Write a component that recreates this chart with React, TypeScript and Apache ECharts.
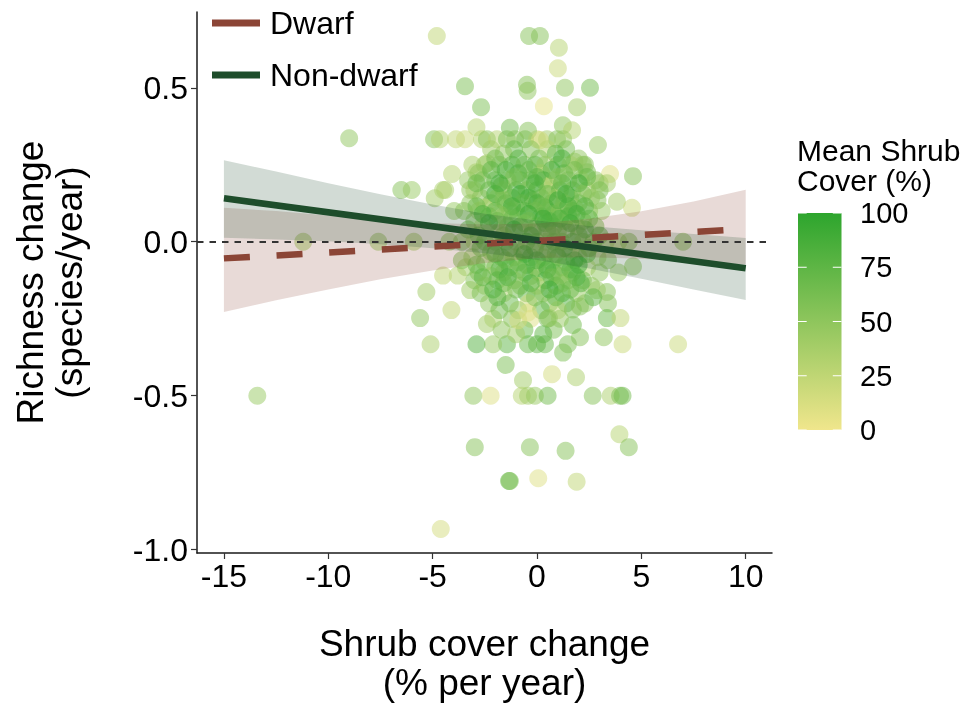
import React, { useEffect, useRef } from "react";
import * as echarts from "echarts";

const FONT = "'Liberation Sans', Arial, Helvetica, sans-serif";

// Plots: [shrub cover change (% / yr), richness change (species / yr), mean shrub cover (%)]
const outerPoints: number[][] = [
  [-13.4, -0.5, 45], [-11.2, 0, 40], [-9.0, 0.336, 50], [-7.6, 0, 45], [-5.9, 0, 40],
  [-6.5, 0.168, 55], [-6.0, 0.168, 45], [-4.8, 0.668, 25], [-4.9, 0.141, 40], [-5.3, -0.163, 40],
  [-5.6, -0.248, 50], [-5.1, -0.333, 35], [-4.1, -0.222, 25], [-4.5, -0.11, 25], [-4.5, 0.168, 35],
  [-4.07, 0.22, 30], [-3.97, 0.1, 45], [-3.45, 0.505, 60], [-2.68, 0.437, 60], [-2.9, 0.372, 30],
  [-0.38, 0.668, 55], [0.14, 0.668, 55], [1.05, 0.63, 30], [1.0, 0.563, 20], [-0.48, 0.51, 55],
  [-0.45, 0.49, 50], [1.34, 0.5, 50], [2.54, 0.5, 65], [0.33, 0.44, 5], [1.92, 0.437, 40],
  [1.24, 0.378, 50], [1.68, 0.362, 30], [2.92, 0.314, 45], [3.5, 0.22, 10], [4.6, 0.213, 55],
  [3.35, 0.19, 40], [3.83, 0.13, 40], [4.55, 0.11, 20], [7.0, 0, 50], [6.76, -0.333, 20],
  [4.6, -0.08, 50], [3.9, -0.1, 45], [3.35, -0.163, 55], [2.87, -0.157, 45], [3.4, -0.2, 55],
  [3.35, -0.248, 70], [4.0, -0.248, 25], [3.2, -0.31, 50], [4.1, -0.333, 20], [2.06, -0.31, 55],
  [1.48, -0.333, 60], [1.25, -0.36, 60], [1.72, -0.27, 65], [0.38, -0.333, 70], [0, -0.333, 75],
  [-0.43, -0.333, 70], [-1.44, -0.333, 75], [-2.1, -0.333, 45], [-2.9, -0.333, 80], [-1.5, -0.4, 60],
  [-0.67, -0.45, 40], [0.72, -0.43, 15], [1.87, -0.44, 35], [-2.4, -0.267, 40], [-2.1, -0.25, 35],
  [-3.2, -0.157, 40], [-3.8, -0.11, 30],
];

const lowerPoints: number[][] = [
  [-3.05, -0.5, 50], [-2.22, -0.5, 10], [-0.73, -0.5, 30], [-0.43, -0.5, 40], [-0.1, -0.5, 45],
  [0.51, -0.5, 65], [2.67, -0.5, 55], [3.53, -0.5, 35], [3.98, -0.5, 60], [4.1, -0.5, 65],
  [3.95, -0.625, 30], [4.4, -0.667, 55], [-2.98, -0.667, 55], [-0.34, -0.667, 55], [1.37, -0.679, 55],
  [-1.34, -0.777, 70], [-1.3, -0.777, 60], [0.06, -0.768, 10], [1.9, -0.779, 25], [-4.61, -0.933, 15],
];

const upperPoints: number[][] = [
  [-4.93, 0.333, 55], [-4.65, 0.333, 30], [-3.88, 0.333, 25], [-3.45, 0.333, 20], [-2.64, 0.333, 30],
  [-2.4, 0.333, 55], [-1.92, 0.333, 30], [-1.44, 0.333, 60], [-1.05, 0.333, 50], [-0.57, 0.333, 65],
  [0.0, 0.333, 20], [0.48, 0.333, 40], [0.96, 0.333, 55], [1.25, 0.333, 45],
  [-1.3, 0.37, 65], [-0.43, 0.36, 55], [0.14, 0.33, 15], [1.8, 0.26, 45], [2.2, 0.25, 50],
  [3.0, 0.19, 40], [2.4, 0.226, 60], [-2.4, 0.255, 35], [-2.9, 0.226, 40], [-3.2, 0.168, 45],
  [-4.4, 0.168, 35],
  [-2.2, 0.3, 40], [-1.1, 0.3, 70], [-0.3, 0.3, 55], [0.5, 0.3, 30], [1.4, 0.3, 60],
  [-1.6, 0.286, 50], [0.9, 0.286, 75],
  [-3.1, 0.25, 35], [-2.5, 0.25, 45], [-1.8, 0.25, 60], [-1.2, 0.25, 75], [-0.6, 0.25, 55],
  [-0.1, 0.25, 85], [0.4, 0.25, 40], [1.0, 0.25, 65], [1.6, 0.25, 30], [2.3, 0.25, 55],
  [-2.8, 0.222, 50], [-0.9, 0.222, 90], [0.2, 0.222, 25], [1.3, 0.222, 70],
  [-3.3, 0.2, 45], [-2.6, 0.2, 60], [-2.0, 0.2, 70], [-1.4, 0.2, 55], [-0.8, 0.2, 80],
  [-0.3, 0.2, 65], [0.3, 0.2, 90], [0.8, 0.2, 45], [1.5, 0.2, 60], [2.1, 0.2, 35], [2.8, 0.2, 50],
  [-1.7, 0.182, 65], [0.6, 0.182, 20],
  [-3.0, 0.167, 40], [-2.3, 0.167, 70], [-1.6, 0.167, 50], [-1.0, 0.167, 85], [-0.5, 0.167, 60],
  [0.0, 0.167, 75], [0.5, 0.167, 35], [1.1, 0.167, 80], [1.7, 0.167, 55], [2.4, 0.167, 40], [3.0, 0.167, 60],
];

const corePoints: number[][] = [
  [-2.7, 0.143, 55], [-1.9, 0.143, 35], [-1.2, 0.143, 70], [-0.4, 0.143, 90], [0.2, 0.143, 60],
  [0.9, 0.143, 25], [1.6, 0.143, 70], [2.6, 0.143, 45],
  [-3.2, 0.125, 50], [-2.2, 0.125, 65], [-1.5, 0.125, 80], [-0.7, 0.125, 45], [0.0, 0.125, 95],
  [0.7, 0.125, 60], [1.3, 0.125, 40], [2.0, 0.125, 75],
  [-2.5, 0.111, 30], [-1.0, 0.111, 60], [0.4, 0.111, 80], [1.8, 0.111, 50],
  [-3.5, 0.1, 55], [-2.8, 0.1, 40], [-2.0, 0.1, 75], [-1.3, 0.1, 60], [-0.6, 0.1, 85], [-0.1, 0.1, 50],
  [0.5, 0.1, 70], [1.1, 0.1, 30], [1.7, 0.1, 65], [2.5, 0.1, 55], [3.1, 0.1, 45],
  [-2.3, 0.083, 70], [-1.6, 0.083, 45], [-0.9, 0.083, 65], [0.2, 0.083, 85], [0.9, 0.083, 55], [1.5, 0.083, 75],
  [-3.0, 0.067, 60], [-1.9, 0.067, 80], [-0.4, 0.067, 35], [0.6, 0.067, 90], [1.3, 0.067, 50], [2.2, 0.067, 60],
  [-2.6, 0.05, 45], [-1.4, 0.05, 65], [-0.8, 0.05, 75], [0.0, 0.05, 55], [0.8, 0.05, 80], [1.9, 0.05, 40], [2.8, 0.05, 65],
  [-1.8, 0.033, 55], [-0.2, 0.033, 70], [1.0, 0.033, 60],
  [-4.2, 0, 45], [-3.6, 0, 55], [-3.0, 0, 35], [-2.5, 0, 70], [-2.0, 0, 60], [-1.5, 0, 80],
  [-1.0, 0, 50], [-0.5, 0, 90], [0.0, 0, 65], [0.4, 0, 40], [0.8, 0, 75], [1.2, 0, 55],
  [1.7, 0, 85], [2.2, 0, 45], [2.7, 0, 60], [3.3, 0, 50], [3.9, 0, 40], [4.4, 0, 55],
  [-2.2, -0.033, 65], [-0.7, -0.033, 45], [0.5, -0.033, 85], [1.6, -0.033, 55],
  [-3.1, -0.05, 50], [-1.7, -0.05, 70], [-1.1, -0.05, 40], [-0.3, -0.05, 80], [0.3, -0.05, 60],
  [1.0, -0.05, 90], [2.0, -0.05, 50], [2.9, -0.05, 45],
  [-2.5, -0.067, 55], [-0.9, -0.067, 75], [0.7, -0.067, 45], [1.4, -0.067, 65],
  [-3.4, -0.083, 40], [-2.0, -0.083, 60], [-1.3, -0.083, 85], [-0.1, -0.083, 55], [1.2, -0.083, 70], [2.4, -0.083, 35],
  [-2.8, -0.1, 65], [-1.6, -0.1, 50], [-0.6, -0.1, 90], [0.1, -0.1, 40], [0.8, -0.1, 75], [1.7, -0.1, 60], [3.0, -0.1, 50],
  [-2.2, -0.111, 45], [-0.3, -0.111, 70], [1.1, -0.111, 55],
  [-3.0, -0.125, 55], [-1.9, -0.125, 75], [-1.1, -0.125, 50], [0.4, -0.125, 85], [1.5, -0.125, 45], [2.2, -0.125, 65],
  [-2.5, -0.143, 40], [-0.8, -0.143, 60], [0.0, -0.143, 20], [0.9, -0.143, 80], [2.6, -0.143, 50],
  [-2.7, -0.167, 60], [-1.6, -0.167, 35], [-0.5, -0.167, 75], [0.3, -0.167, 55], [1.2, -0.167, 85], [1.9, -0.167, 45],
  [-2.3, -0.2, 50], [-1.3, -0.2, 70], [-0.4, -0.2, 15], [0.6, -0.2, 60], [1.4, -0.2, 80], [2.3, -0.2, 55],
  [-1.8, -0.222, 65], [-0.9, -0.222, 45], [0.2, -0.222, 75], [1.0, -0.222, 30],
  [-1.2, -0.25, 55], [-0.3, -0.25, 10], [0.5, -0.25, 65], [1.1, -0.25, 45],
  [-1.7, -0.286, 50], [-0.6, -0.286, 70], [0.8, -0.286, 60],
  [-1.0, -0.3, 40], [0.3, -0.3, 75],
  [-0.43, -0.23, 10], [-0.9, -0.255, 15], [0.57, -0.248, 50], [1.72, -0.22, 60], [2.06, -0.21, 55],
];

const densePoints: number[][] = [
  [-2.0, 0.27, 65], [-0.9, 0.27, 80], [0.1, 0.27, 60], [1.2, 0.27, 85], [2.0, 0.27, 50],
  [-2.2, 0.233, 75], [-1.5, 0.233, 85], [-0.4, 0.233, 70], [0.7, 0.233, 90], [1.8, 0.233, 65],
  [-1.1, 0.21, 60], [0.0, 0.21, 80], [1.0, 0.21, 55], [2.4, 0.21, 70],
  [-2.9, 0.19, 70], [-1.8, 0.19, 90], [-0.1, 0.19, 85], [1.2, 0.19, 75], [2.0, 0.19, 95],
  [-2.0, 0.155, 85], [-0.8, 0.155, 95], [0.5, 0.155, 70], [1.4, 0.155, 90], [2.2, 0.155, 60],
  [-1.6, 0.135, 60], [-0.2, 0.135, 80], [1.0, 0.135, 95], [2.9, 0.135, 55],
  [-2.9, 0.115, 70], [-1.2, 0.115, 90], [0.2, 0.115, 65], [1.5, 0.115, 85], [2.3, 0.115, 80],
  [-2.6, 0.09, 85], [-1.8, 0.09, 55], [-0.4, 0.09, 95], [0.8, 0.09, 70], [1.9, 0.09, 90],
  [-1.2, 0.075, 70], [0.3, 0.075, 95], [1.1, 0.075, 85], [2.5, 0.075, 75],
  [-2.3, 0.06, 90], [-0.6, 0.06, 60], [0.4, 0.06, 80], [1.6, 0.06, 95],
  [-3.3, 0.04, 65], [-1.1, 0.04, 95], [0.5, 0.04, 75], [1.4, 0.04, 70], [2.3, 0.04, 85],
  [-2.8, 0.02, 80], [-1.6, 0.02, 65], [-0.3, 0.02, 90], [0.7, 0.02, 60], [2.0, 0.02, 75], [3.0, 0.02, 70],
  [-2.7, -0.02, 75], [-1.3, -0.02, 90], [-0.1, -0.02, 70], [1.3, -0.02, 95], [2.5, -0.02, 65],
  [-2.0, -0.04, 85], [-0.6, -0.04, 95], [0.9, -0.04, 70], [2.4, -0.04, 80],
  [-3.6, -0.06, 60], [-1.5, -0.06, 75], [0.0, -0.06, 90], [1.8, -0.06, 85], [3.4, -0.06, 55],
  [-2.9, -0.075, 70], [-0.5, -0.075, 85], [0.4, -0.075, 70], [2.0, -0.075, 95],
  [-1.8, -0.09, 80], [-0.9, -0.09, 60], [0.5, -0.09, 90], [1.6, -0.09, 80],
  [-2.6, -0.115, 75], [-1.4, -0.115, 90], [0.7, -0.115, 65], [1.9, -0.115, 85],
  [-1.6, -0.135, 70], [-0.3, -0.135, 85], [1.2, -0.135, 60], [2.1, -0.135, 80],
  [-2.1, -0.155, 85], [-1.0, -0.155, 65], [0.6, -0.155, 95], [1.6, -0.155, 70],
  [-1.9, -0.18, 80], [-0.1, -0.18, 60], [0.9, -0.18, 70], [2.7, -0.18, 75],
];

// Linear fits per shrub group
const fitX = [-15, 10];
const dwarfFit = [-0.054, 0.041];
const nonDwarfFit = [0.141, -0.086];

// Confidence bands of the fits
const bandX = [-15, -12.5, -10, -7.5, -5, -2.5, 0, 2.5, 5, 7.5, 10];
const dwarfUpper = [0.11, 0.1, 0.085, 0.071, 0.061, 0.056, 0.059, 0.075, 0.099, 0.131, 0.169];
const dwarfLower = [-0.228, -0.19, -0.155, -0.122, -0.093, -0.069, -0.053, -0.05, -0.055, -0.065, -0.074];
const nonDwarfUpper = [0.265, 0.228, 0.19, 0.154, 0.121, 0.091, 0.069, 0.051, 0.037, 0.025, 0.012];
const nonDwarfLower = [0.013, 0.007, 0.002, -0.008, -0.021, -0.037, -0.059, -0.087, -0.12, -0.155, -0.189];

const xTicks = [-15, -10, -5, 0, 5, 10];
const yTicks = [-1, -0.5, 0, 0.5];
const coverTicks = [0, 25, 50, 75, 100];

const groupNames = ["Dwarf", "Non-dwarf"];
const groupColors = ["#8B4536", "#1E4D2B"];
const coverColors = ["#F0E68C", "#2DA52D"];

function ribbon(upper: number[], lower: number[], fill: string) {
  return {
    type: "custom",
    z: 2,
    silent: true,
    data: [[bandX[0], upper[0]]],
    encode: { x: 0, y: 1 },
    renderItem: (_params: any, api: any) => {
      const pts: number[][] = [];
      bandX.forEach((x, i) => pts.push(api.coord([x, upper[i]])));
      for (let i = bandX.length - 1; i >= 0; i--) pts.push(api.coord([bandX[i], lower[i]]));
      return { type: "polygon", shape: { points: pts }, style: { fill } };
    },
  };
}

export default function App() {
  const ref = useRef<HTMLDivElement>(null);

  useEffect(() => {
    if (!ref.current) return;
    const chart = echarts.init(ref.current, null, { renderer: "svg" });

    const barLeft = 798;
    const barTop = 213;
    const barW = 43.5;
    const barH = 217;
    const tickLen = 8.7;

    const colorbar: any[] = [
      {
        type: "rect",
        shape: { x: barLeft, y: barTop, width: barW, height: barH },
        style: {
          fill: new echarts.graphic.LinearGradient(0, 0, 0, 1, [
            { offset: 0, color: coverColors[1] },
            { offset: 1, color: coverColors[0] },
          ]),
        },
      },
    ];
    coverTicks.forEach((t) => {
      const y = barTop + barH * (1 - t / 100);
      colorbar.push(
        { type: "line", shape: { x1: barLeft, y1: y, x2: barLeft + tickLen, y2: y }, style: { stroke: "#fff", lineWidth: 1 } },
        { type: "line", shape: { x1: barLeft + barW - tickLen, y1: y, x2: barLeft + barW, y2: y }, style: { stroke: "#fff", lineWidth: 1 } },
        {
          type: "text",
          x: 860,
          y,
          style: { text: String(t), fontSize: 29, fontFamily: FONT, fill: "#000", verticalAlign: "middle", align: "left" },
        }
      );
    });
    colorbar.push(
      { type: "text", x: 797, y: 150, style: { text: "Mean Shrub", fontSize: 30, fontFamily: FONT, fill: "#000", verticalAlign: "middle" } },
      { type: "text", x: 797, y: 180, style: { text: "Cover (%)", fontSize: 30, fontFamily: FONT, fill: "#000", verticalAlign: "middle" } }
    );

    chart.setOption({
      animation: false,
      grid: { left: 197, right: 197, top: 12, bottom: 158, containLabel: false },
      legend: {
        data: groupNames.map((n) => ({ name: n, icon: "rect" })),
        orient: "vertical",
        left: 212,
        top: 7,
        padding: 0,
        itemWidth: 48,
        itemHeight: 7,
        itemGap: 20,
        selectedMode: false,
        textStyle: { fontSize: 32, fontFamily: FONT, color: "#000", lineHeight: 30, padding: [0, 0, 0, 5] },
      },
      visualMap: {
        type: "continuous",
        show: false,
        min: 0,
        max: 100,
        dimension: 2,
        seriesIndex: 0,
        inRange: { color: coverColors },
      },
      xAxis: {
        type: "value",
        min: -16.29,
        max: 11.26,
        name: "Shrub cover change\n(% per year)",
        nameLocation: "middle",
        nameGap: 71,
        nameTextStyle: { fontSize: 37, lineHeight: 39, fontFamily: FONT, color: "#000" },
        axisLine: { onZero: false, lineStyle: { color: "#1a1a1a", width: 1.5 } },
        axisTick: { customValues: xTicks, length: 6, lineStyle: { color: "#333", width: 1.2 } },
        axisLabel: {
          customValues: xTicks,
          fontSize: 32,
          lineHeight: 32,
          fontFamily: FONT,
          color: "#000",
          margin: 7,
          formatter: (v: number) => String(v),
        },
        splitLine: { show: false },
      },
      yAxis: {
        type: "value",
        min: -1.0107,
        max: 0.746,
        name: "Richness change\n(species/year)",
        nameLocation: "middle",
        nameGap: 108,
        nameTextStyle: { fontSize: 37, lineHeight: 39, fontFamily: FONT, color: "#000" },
        axisLine: { show: true, onZero: false, lineStyle: { color: "#1a1a1a", width: 1.5 } },
        axisTick: { show: true, customValues: yTicks, length: 6, lineStyle: { color: "#333", width: 1.2 } },
        axisLabel: {
          customValues: yTicks,
          fontSize: 32,
          fontFamily: FONT,
          color: "#000",
          margin: 9,
          formatter: (v: number) => v.toFixed(1),
        },
        splitLine: { show: false },
      },
      series: [
        {
          type: "scatter",
          z: 1,
          symbolSize: 18,
          itemStyle: { opacity: 0.5 },
          data: [...outerPoints, ...lowerPoints, ...upperPoints, ...corePoints, ...densePoints],
          silent: true,
        },
        ribbon(dwarfUpper, dwarfLower, "rgba(139,69,54,0.2)"),
        ribbon(nonDwarfUpper, nonDwarfLower, "rgba(30,77,43,0.2)"),
        {
          name: groupNames[1],
          type: "line",
          z: 3,
          symbol: "none",
          itemStyle: { color: groupColors[1] },
          lineStyle: { color: groupColors[1], width: 6.5, cap: "butt" },
          data: fitX.map((x, i) => [x, nonDwarfFit[i]]),
          silent: true,
        },
        {
          name: groupNames[0],
          type: "line",
          z: 4,
          symbol: "none",
          itemStyle: { color: groupColors[0] },
          lineStyle: { color: groupColors[0], width: 6.5, type: [26, 26.7], cap: "butt" },
          data: fitX.map((x, i) => [x, dwarfFit[i]]),
          silent: true,
          markLine: {
            silent: true,
            symbol: ["none", "none"],
            label: { show: false },
            lineStyle: { color: "#333", width: 2, type: [6.5, 6] },
            data: [{ yAxis: 0 }],
          },
        },
      ],
      graphic: colorbar,
    });

    return () => chart.dispose();
  }, []);

  return <div ref={ref} style={{ position: "fixed", left: 0, top: 0, width: 969, height: 711 }} />;
}
